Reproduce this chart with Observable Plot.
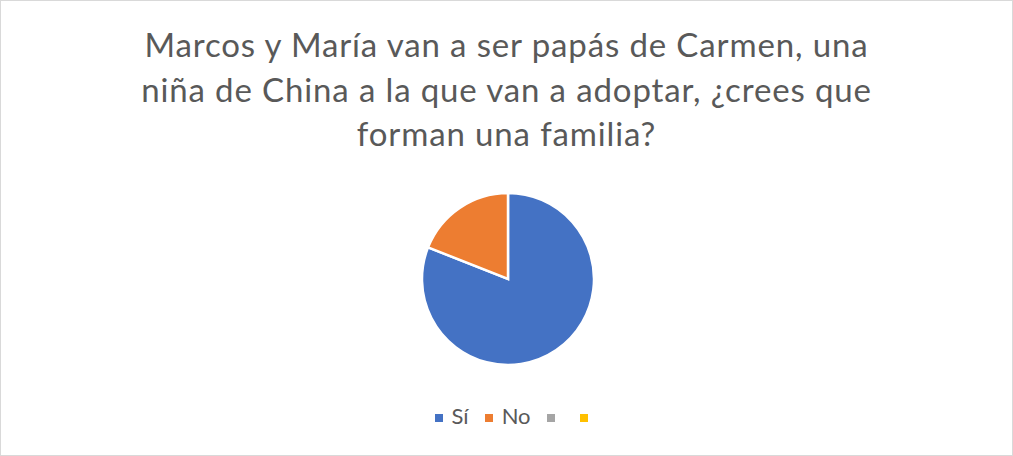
<!DOCTYPE html>
<html>
<head>
<meta charset="utf-8">
<script src="https://cdn.jsdelivr.net/npm/d3@7"></script>
<script src="https://cdn.jsdelivr.net/npm/@observablehq/plot@0.6"></script>
<style>
  html, body { margin: 0; padding: 0; background: #fff; }
  #chart {
    position: relative; width: 1013px; height: 456px; box-sizing: border-box;
    border: 1px solid #d9d9d9; background: #fff; overflow: hidden;
    font-family: Lato, "Open Sans", sans-serif; color: #595959;
  }
  #title {
    position: absolute; left: 0; right: 0; top: 21px; text-align: center;
    font-size: 33px; line-height: 44.5px; letter-spacing: 0.87px;
    white-space: pre-line; color: #595959;
  }
  #plot { position: absolute; left: 0; top: 142px; }
  #legend {
    position: absolute; left: 434px; top: 400.5px; height: 28px;
    display: flex; justify-content: flex-start; align-items: center;
    font-size: 22px; line-height: 28px; color: #595959; white-space: nowrap;
  }
  .item { display: flex; align-items: center; margin-right: 16.5px; }
  .sw { width: 8px; height: 8px; margin-right: 8.5px; position: relative; top: 2.5px; }
</style>
</head>
<body>
<div id="chart">
  <div id="title"></div>
  <div id="plot"></div>
  <div id="legend"></div>
</div>
<script>
const title = "Marcos y María van a ser papás de Carmen, una\nniña de China a la que van a adoptar, ¿crees que\nforman una familia?";
const categories = ["Sí", "No", "", ""];
const values = [81, 19, 0, 0];
const colors = ["#4472C4", "#ED7D31", "#A5A5A5", "#FFC000"];

document.getElementById("title").textContent = title;

const data = categories.map((c, i) => ({key: i, category: c, value: values[i]}));

const W = 1011, H = 252, R = 86, CX = 507, CY = 136;

const pieMark = (index, scales, vals, dimensions, context) => {
  const arcs = d3.pie().sort(null).value(d => d.value)(data);
  const arc = d3.arc().innerRadius(0).outerRadius(R);
  const g = d3.create("svg:g").attr("transform", `translate(${CX},${CY})`);
  g.selectAll("path")
    .data(arcs.filter(a => a.data.value > 0))
    .join("path")
    .attr("d", arc)
    .attr("fill", a => scales.color(a.data.key))
    .attr("stroke", "#fff")
    .attr("stroke-width", 2.5)
    .attr("stroke-linejoin", "miter");
  return g.node();
};

const plot = Plot.plot({
  width: W,
  height: H,
  margin: 0,
  x: {axis: null},
  y: {axis: null},
  color: {type: "categorical", domain: data.map(d => d.key), range: colors},
  marks: [
    Plot.dot(data, {x: () => 0, y: () => 0, fill: "key", r: 0, opacity: 0}),
    pieMark
  ]
});
document.getElementById("plot").appendChild(plot);

const legend = d3.select("#legend");
data.forEach(d => {
  const it = legend.append("div").attr("class", "item");
  it.append("div").attr("class", "sw").style("background", plot.scale("color").apply(d.key));
  it.append("span").text(d.category);
});
</script>
</body>
</html>
